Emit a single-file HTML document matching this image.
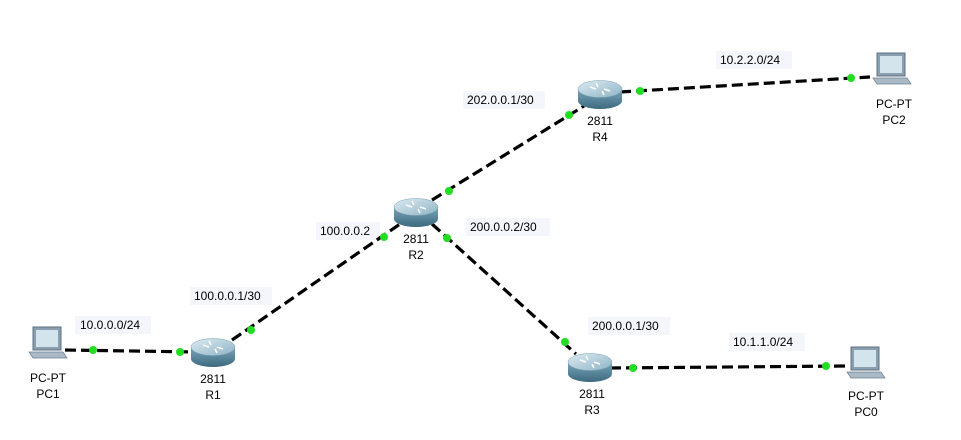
<!DOCTYPE html>
<html><head><meta charset="utf-8"><style>
html,body{margin:0;padding:0;background:#fff;}
svg{display:block;font-family:"Liberation Sans",sans-serif;font-size:12px;}
</style></head><body>
<svg width="961" height="440" viewBox="0 0 961 440" xmlns="http://www.w3.org/2000/svg">
<defs>
<linearGradient id="rs" x1="0" x2="0" y1="0" y2="1"><stop offset="0" stop-color="#7aa5b9"/><stop offset="1" stop-color="#3d6a80"/></linearGradient>
<linearGradient id="rt" x1="0" x2="1" y1="0" y2="1"><stop offset="0" stop-color="#dcebf2"/><stop offset="1" stop-color="#8fb3c5"/></linearGradient>
<g id="router">
<path d="M-22,-5 L-22,7 A22,8 0 0 0 22,7 L22,-5 Z" fill="url(#rs)"/>
<ellipse cx="0" cy="-5" rx="22" ry="8.5" fill="url(#rt)" stroke="#7aa0b3" stroke-width="0.5"/>
<path d="M-10,-7 l6,2 M10,-3 l-6,-2 M-4,-11 l2,4 M4,1 l-2,-4" stroke="#fff" stroke-width="1.5"/>
</g>
<g id="pc">
<rect x="-15" y="-19" width="28" height="23" fill="#8aa0b0" stroke="#5d7080"/>
<rect x="-12" y="-16" width="22" height="17" fill="#d4e4ec"/>
<path d="M-19,6 L15,6 L19,12 L-15,12 Z" fill="#a9bac6" stroke="#6c7f8c" stroke-width="0.7"/>
</g>
</defs>
<g fill="#f4f6fb">
<rect x="75" y="316" width="76" height="18"/>
<rect x="190" y="287" width="82" height="18"/>
<rect x="316" y="222" width="64" height="18"/>
<rect x="463" y="91" width="82" height="18"/>
<rect x="466" y="218" width="84" height="18"/>
<rect x="588" y="317" width="82" height="18"/>
<rect x="716" y="51" width="76" height="18"/>
<rect x="729" y="333" width="76" height="18"/>
</g>
<g stroke="#000" stroke-width="3.2" stroke-dasharray="11,5" fill="none">
<line x1="65" y1="350" x2="198" y2="352"/>
<line x1="232" y1="340" x2="400" y2="224"/>
<line x1="432" y1="200" x2="584" y2="106"/>
<line x1="432" y1="224" x2="576" y2="354"/>
<line x1="620" y1="92" x2="870" y2="77"/>
<line x1="610" y1="368" x2="846" y2="366"/>
</g>
<g fill="#22dd22">
<circle cx="93" cy="350" r="4"/><circle cx="180" cy="352" r="4"/>
<circle cx="251" cy="330" r="4"/><circle cx="384" cy="237" r="4"/>
<circle cx="449" cy="191" r="4"/><circle cx="569" cy="115" r="4"/>
<circle cx="447" cy="238" r="4"/><circle cx="565" cy="342" r="4"/>
<circle cx="640" cy="91" r="4"/><circle cx="851" cy="78" r="4"/>
<circle cx="633" cy="368" r="4"/><circle cx="826" cy="366" r="4"/>
</g>
<use href="#router" x="213" y="352"/>
<use href="#router" x="416" y="212"/>
<use href="#router" x="600" y="94"/>
<use href="#router" x="590" y="367"/>
<use href="#pc" x="48" y="346"/>
<use href="#pc" x="892" y="72"/>
<use href="#pc" x="866" y="366"/>
<g fill="#000" text-anchor="middle">
<text x="213" y="383">2811</text><text x="213" y="399">R1</text>
<text x="416" y="243">2811</text><text x="416" y="259">R2</text>
<text x="600" y="125">2811</text><text x="600" y="141">R4</text>
<text x="592" y="398">2811</text><text x="592" y="414">R3</text>
<text x="48" y="382">PC-PT</text><text x="48" y="398">PC1</text>
<text x="894" y="108">PC-PT</text><text x="894" y="124">PC2</text>
<text x="866" y="400">PC-PT</text><text x="866" y="416">PC0</text>
</g>
<g fill="#000">
<text x="80" y="329">10.0.0.0/24</text>
<text x="194" y="300">100.0.0.1/30</text>
<text x="320" y="235">100.0.0.2</text>
<text x="467" y="104">202.0.0.1/30</text>
<text x="470" y="231">200.0.0.2/30</text>
<text x="592" y="330">200.0.0.1/30</text>
<text x="720" y="64">10.2.2.0/24</text>
<text x="733" y="346">10.1.1.0/24</text>
</g>
</svg>
</body></html>
